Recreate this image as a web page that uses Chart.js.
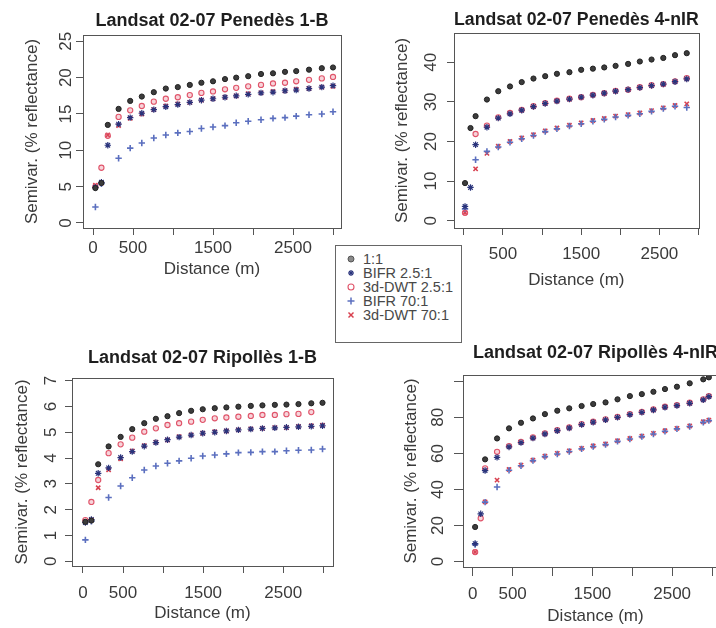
<!DOCTYPE html>
<html>
<head>
<meta charset="utf-8">
<script src="https://cdn.jsdelivr.net/npm/chart.js@4.4.1/dist/chart.umd.min.js"></script>
<style>
  html, body { margin: 0; padding: 0; background: #fff; }
  body { width: 716px; height: 628px; position: relative; overflow: hidden; font-family: "Liberation Sans", Arial, sans-serif; }
  canvas { position: absolute; }
  #legend { position: absolute; left: 335px; top: 245px; width: 127px; height: 98px; border: 1px solid #666; background: #fff; box-sizing: border-box; }
  .item { position: absolute; left: 0; height: 14px; line-height: 14px; font-size: 14.5px; color: #484848; white-space: nowrap; }
  .item svg { position: absolute; left: 10px; top: 2px; }
  .item span { position: absolute; left: 27px; }
</style>
</head>
<body>
<div id="legend"></div>
<script>
const seriesNames = ['1:1', 'BIFR 2.5:1', '3d-DWT 2.5:1', 'BIFR 70:1', '3d-DWT 70:1'];
const xTickValues = [0, 500, 1000, 1500, 2000, 2500, 3000];
const xTickText = ['0', '500', '', '1500', '', '2500', ''];
const xTickTextNoZero = ['', '500', '', '1500', '', '2500', ''];

// Penedès 1-B
const pen1Lags = [30, 105, 185, 320, 465, 610, 760, 910, 1060, 1210, 1355, 1500, 1650, 1790, 1940, 2100, 2250, 2400, 2540, 2700, 2860, 3000];
const pen1Ref = [4.8, 5.5, 13.5, 15.7, 16.8, 17.4, 18.0, 18.5, 18.7, 19.0, 19.3, 19.5, 19.8, 20.0, 20.2, 20.5, 20.6, 20.8, 20.9, 21.1, 21.3, 21.4];
const pen1Bifr25 = [4.9, 5.6, 10.7, 13.6, 14.5, 15.1, 15.6, 16.0, 16.3, 16.6, 16.9, 17.1, 17.3, 17.5, 17.7, 17.9, 18.0, 18.2, 18.3, 18.5, 18.7, 18.9];
const pen1Dwt25 = [5.0, 7.6, 12.0, 14.6, 15.5, 16.1, 16.7, 17.1, 17.3, 17.6, 17.9, 18.1, 18.4, 18.6, 18.8, 19.0, 19.2, 19.3, 19.5, 19.7, 19.9, 20.1];
const pen1Bifr70 = [2.2, 5.4, null, 8.9, 10.3, 11.0, 11.7, 12.1, 12.4, 12.6, 13.0, 13.2, 13.4, 13.8, 14.0, 14.2, 14.4, 14.5, 14.7, 14.9, 15.0, 15.3];
const pen1Dwt70 = [5.2, 5.5, 12.1, 13.4, 14.4, 15.0, 15.6, 16.1, 16.4, 16.6, 16.9, 17.1, 17.3, 17.5, 17.8, 17.9, 18.1, 18.2, 18.4, 18.5, 18.7, 18.8];
const pen1YTicks = [0, 5, 10, 15, 20, 25];
const pen1YText = ['0', '5', '10', '15', '20', '25'];

// Penedès 4-nIR
const pen4Lags = [15, 85, 150, 295, 440, 590, 740, 890, 1040, 1190, 1350, 1500, 1650, 1795, 1940, 2100, 2250, 2400, 2550, 2700, 2850];
const pen4Ref = [9.5, 23.4, 26.4, 30.6, 32.7, 33.9, 35.0, 35.9, 36.5, 37.1, 37.5, 38.1, 38.4, 38.7, 39.1, 39.6, 40.2, 40.7, 41.1, 41.8, 42.3];
const pen4Bifr25 = [3.6, 8.4, 19.2, 23.6, 25.9, 27.0, 27.9, 28.8, 29.6, 30.2, 30.7, 31.2, 31.7, 32.2, 32.7, 33.1, 33.6, 34.1, 34.5, 35.1, 35.8];
const pen4Dwt25 = [2.0, null, 21.9, 24.0, 26.1, 27.2, 28.0, 28.9, 29.7, 30.3, 30.8, 31.2, 31.8, 32.2, 32.8, 33.1, 33.7, 34.2, 34.5, 35.2, 36.0];
const pen4Bifr70 = [3.0, null, 15.4, 17.5, 18.6, 19.8, 20.7, 21.5, 22.5, 23.2, 23.9, 24.5, 25.1, 25.6, 26.2, 26.6, 27.0, 27.6, 28.3, 28.9, 28.6];
const pen4Dwt70 = [2.0, null, 13.1, 17.0, 18.8, 20.0, 20.9, 21.7, 22.7, 23.4, 24.1, 24.7, 25.3, 25.8, 26.4, 26.8, 27.2, 27.8, 28.5, 29.1, 29.5];
const pen4YTicks = [0, 10, 20, 30, 40];
const pen4YText = ['0', '10', '20', '30', '40'];

// Ripollès 1-B
const rip1Lags = [30, 105, 190, 320, 470, 615, 765, 910, 1055, 1200, 1350, 1495, 1645, 1790, 1940, 2095, 2240, 2395, 2540, 2690, 2850, 2990];
const rip1Ref = [1.53, 1.58, 3.76, 4.45, 4.82, 5.12, 5.35, 5.52, 5.62, 5.74, 5.83, 5.89, 5.93, 5.96, 5.99, 6.02, 6.04, 6.06, 6.07, 6.09, 6.12, 6.14];
const rip1Bifr25 = [1.50, 1.62, 3.41, 3.62, 4.02, 4.25, 4.46, 4.60, 4.71, 4.81, 4.89, 4.96, 5.00, 5.05, 5.09, 5.12, 5.15, 5.17, 5.19, 5.21, 5.23, 5.25];
const rip1Dwt25 = [1.60, 2.30, 3.15, 4.19, 4.53, 4.79, 5.02, 5.15, 5.28, 5.35, 5.41, 5.48, 5.54, 5.57, 5.60, 5.63, 5.67, 5.67, 5.70, 5.71, 5.78, null];
const rip1Bifr70 = [0.83, 1.55, null, 2.47, 2.92, 3.24, 3.54, 3.69, 3.80, 3.89, 3.99, 4.08, 4.12, 4.16, 4.21, 4.22, 4.25, 4.25, 4.28, 4.30, 4.31, 4.35];
const rip1Dwt70 = [1.55, 1.60, 2.85, 3.54, 3.97, 4.28, 4.48, 4.61, 4.70, 4.83, 4.90, 4.96, 5.02, 5.05, 5.09, 5.13, 5.15, 5.18, 5.18, 5.22, 5.25, 5.27];
const rip1YTicks = [0, 1, 2, 3, 4, 5, 6, 7];
const rip1YText = ['0', '1', '2', '3', '4', '5', '6', '7'];

// Ripollès 4-nIR
const rip4Lags = [30, 100, 155, 305, 455, 605, 755, 905, 1060, 1210, 1365, 1510, 1665, 1815, 1970, 2120, 2265, 2410, 2560, 2720, 2890, 2960];
const rip4Ref = [19.2, null, 56.7, 68.3, 73.9, 77.0, 79.4, 81.8, 83.7, 85.0, 86.3, 87.4, 88.3, 90.0, 91.8, 92.9, 94.2, 95.7, 97.0, 98.9, 101.1, 102.2];
const rip4Bifr25 = [10.0, 26.5, 50.5, 57.8, 63.6, 66.0, 68.5, 70.8, 72.6, 74.1, 76.0, 77.3, 78.6, 80.0, 81.5, 82.8, 84.1, 85.6, 86.5, 87.8, 89.7, 91.5];
const rip4Dwt25 = [5.3, 24.0, 51.7, 60.9, 64.1, 66.4, 68.9, 71.1, 72.9, 74.4, 76.3, 77.6, 78.9, 80.3, 81.8, 83.1, 84.4, 85.9, 86.8, 88.1, 90.0, 91.8];
const rip4Bifr70 = [9.5, null, 33.0, 41.4, 50.7, 53.2, 56.0, 58.2, 59.7, 61.1, 62.5, 63.8, 64.9, 66.7, 68.0, 69.3, 70.8, 72.3, 73.6, 74.9, 77.2, 78.2];
const rip4Dwt70 = [5.3, null, 33.1, 45.2, 51.1, 53.5, 56.3, 58.5, 60.0, 61.4, 62.8, 64.1, 65.2, 67.0, 68.3, 69.6, 71.1, 72.6, 73.9, 75.2, 77.6, 78.5];
const rip4YTicks = [0, 20, 40, 60, 80, 100];
const rip4YText = ['0', '20', '40', '60', '80', ''];

const FONT = '"Liberation Sans", Arial, sans-serif';
const seriesStyles = [
  { pointStyle: 'circle', radius: 2.6, color: '#222', fill: '#3c3c3c', width: 1 },
  { pointStyle: 'star', radius: 3.2, color: '#2a347c', fill: '#2a347c', width: 1.2 },
  { pointStyle: 'circle', radius: 2.6, color: '#e0546a', fill: 'rgba(224,84,106,0.25)', width: 1.1 },
  { pointStyle: 'cross', radius: 3.2, color: '#5b6fbf', fill: '#5b6fbf', width: 1.6 },
  { pointStyle: 'crossRot', radius: 3, color: '#d8404f', fill: '#d8404f', width: 1.6 },
];

const frame = {
  id: 'frame',
  afterDatasetsDraw(chart) {
    const { ctx, chartArea: a } = chart;
    ctx.save();
    ctx.strokeStyle = '#555';
    ctx.lineWidth = 1;
    ctx.strokeRect(Math.round(a.left) + 0.5, Math.round(a.top) + 0.5, Math.round(a.right - a.left), Math.round(a.bottom - a.top));
    ctx.restore();
  },
};

function makePanel(p) {
  const canvas = document.createElement('canvas');
  const left = p.box.l - 60;
  const top = p.box.t - 40;
  const width = p.box.r + 6 - left;
  const height = p.box.b + 70 - top;
  canvas.width = width;
  canvas.height = height;
  Object.assign(canvas.style, { left: `${left}px`, top: `${top}px`, width: `${width}px`, height: `${height}px` });
  document.body.insertBefore(canvas, document.getElementById('legend'));

  new Chart(canvas, {
    type: 'scatter',
    data: {
      datasets: p.series.map((vals, i) => ({
        label: seriesNames[i],
        data: p.lags.map((x, j) => ({ x, y: vals[j] })).filter((d) => d.y != null),
        pointStyle: seriesStyles[i].pointStyle,
        pointRadius: seriesStyles[i].radius,
        pointBorderColor: seriesStyles[i].color,
        pointBackgroundColor: seriesStyles[i].fill,
        pointBorderWidth: seriesStyles[i].width,
        showLine: false,
      })),
    },
    options: {
      responsive: false,
      animation: false,
      devicePixelRatio: 1,
      layout: { padding: { left: 0, right: 6, top: 0, bottom: 0 } },
      plugins: {
        legend: { display: false },
        tooltip: { enabled: false },
        title: {
          display: true,
          text: p.title,
          fullSize: false,
          color: '#1e1e1e',
          font: { family: FONT, size: 18, weight: 'bold', lineHeight: 1 },
          padding: { top: p.titlePad[0], bottom: p.titlePad[1] },
        },
      },
      scales: {
        x: {
          type: 'linear',
          position: 'bottom',
          min: p.xRange[0],
          max: p.xRange[1],
          afterBuildTicks: (s) => { s.ticks = xTickValues.map((value) => ({ value })); },
          afterFit: (s) => { s.height = 70; },
          border: { display: false },
          grid: { display: true, drawOnChartArea: false, drawTicks: true, tickLength: p.tickLen, color: '#555' },
          ticks: {
            autoSkip: false, maxRotation: 0, minRotation: 0, padding: p.xLabelPad, color: '#3a3a3a',
            font: { family: FONT, size: 17, lineHeight: 1 },
            callback: (v, i) => p.xText[i],
          },
          title: {
            display: true, text: 'Distance (m)', color: '#3a3a3a',
            font: { family: FONT, size: 17, lineHeight: 1 },
            padding: { top: 0, bottom: p.xTitlePad },
          },
        },
        y: {
          type: 'linear',
          position: 'left',
          min: p.yRange[0],
          max: p.yRange[1],
          afterBuildTicks: (s) => { s.ticks = p.yTicks.map((value) => ({ value })); },
          afterFit: (s) => { s.width = 60; },
          border: { display: false },
          grid: { display: true, drawOnChartArea: false, drawTicks: true, tickLength: p.tickLen, color: '#555' },
          ticks: {
            autoSkip: false, minRotation: 90, maxRotation: 90, crossAlign: 'center', padding: p.yLabelPad, color: '#3a3a3a',
            font: { family: FONT, size: 17, lineHeight: 1 },
            callback: (v, i) => p.yText[i],
          },
          title: {
            display: true, text: 'Semivar. (% reflectance)', color: '#3a3a3a',
            font: { family: FONT, size: 17, lineHeight: 1 },
            padding: { top: p.yTitlePad, bottom: 0 },
          },
        },
      },
    },
    plugins: [frame],
  });
}

makePanel({
  title: 'Landsat 02-07 Penedès 1-B',
  box: { l: 83, r: 341, t: 35, b: 228 }, xRange: [-125, 3100], yRange: [-0.69, 25.87],
  lags: pen1Lags, series: [pen1Ref, pen1Bifr25, pen1Dwt25, pen1Bifr70, pen1Dwt70],
  yTicks: pen1YTicks, yText: pen1YText, xText: xTickText,
  tickLen: 7, yLabelPad: 0, xLabelPad: 5, xTitlePad: 20, yTitlePad: 0.5, titlePad: [16.7, 5.3],
});
makePanel({
  title: 'Landsat 02-07 Penedès 4-nIR',
  box: { l: 454, r: 703, t: 33, b: 228 }, xRange: [-126, 3003], yRange: [-1.84, 47.4],
  lags: pen4Lags, series: [pen4Ref, pen4Bifr25, pen4Dwt25, pen4Bifr70, pen4Dwt70],
  yTicks: pen4YTicks, yText: pen4YText, xText: xTickTextNoZero,
  tickLen: 7, yLabelPad: 6, xLabelPad: 10.5, xTitlePad: 8.8, yTitlePad: 0, titlePad: [18, 4],
});
makePanel({
  title: 'Landsat 02-07 Ripollès 1-B',
  box: { l: 72, r: 333, t: 378, b: 566 }, xRange: [-137, 3121], yRange: [-0.18, 7.1],
  lags: rip1Lags, series: [rip1Ref, rip1Bifr25, rip1Dwt25, rip1Bifr70, rip1Dwt70],
  yTicks: rip1YTicks, yText: rip1YText, xText: xTickText,
  tickLen: 7, yLabelPad: 9.3, xLabelPad: 11.5, xTitlePad: 13.8, yTitlePad: 1.5, titlePad: [11, 11],
});
makePanel({
  title: 'Landsat 02-07 Ripollès 4-nIR',
  box: { l: 463, r: 728, t: 375, b: 567 }, xRange: [-122, 3200], yRange: [-3.0, 103.5],
  lags: rip4Lags, series: [rip4Ref, rip4Bifr25, rip4Dwt25, rip4Bifr70, rip4Dwt70],
  yTicks: rip4YTicks, yText: rip4YText, xText: xTickText,
  tickLen: 9, yLabelPad: 6.5, xLabelPad: 10.2, xTitlePad: 11.9, yTitlePad: 0, titlePad: [9, 13],
});

// legend between the panels
const legendSymbols = [
  '<circle cx="5" cy="5" r="3" fill="#8a8a8a" stroke="#555" stroke-width="1"/>',
  '<g stroke="#2a347c" stroke-width="1.3"><line x1="5" y1="2" x2="5" y2="8"/><line x1="2" y1="5" x2="8" y2="5"/><line x1="3" y1="3" x2="7" y2="7"/><line x1="7" y1="3" x2="3" y2="7"/></g>',
  '<circle cx="5" cy="5" r="3" fill="none" stroke="#e0546a" stroke-width="1.1"/>',
  '<g stroke="#5b6fbf" stroke-width="1.5"><line x1="5" y1="1.5" x2="5" y2="8.5"/><line x1="1.5" y1="5" x2="8.5" y2="5"/></g>',
  '<g stroke="#d8404f" stroke-width="1.5"><line x1="2.5" y1="2.5" x2="7.5" y2="7.5"/><line x1="7.5" y1="2.5" x2="2.5" y2="7.5"/></g>',
];
const legendTops = [6, 20, 34, 48, 62];
document.getElementById('legend').innerHTML = seriesNames.map((name, i) => `
  <div class="item" style="top:${legendTops[i]}px">
    <svg width="10" height="10" viewBox="0 0 10 10">${legendSymbols[i]}</svg>
    <span>${name}</span>
  </div>
`).join('');
</script>
</body>
</html>
